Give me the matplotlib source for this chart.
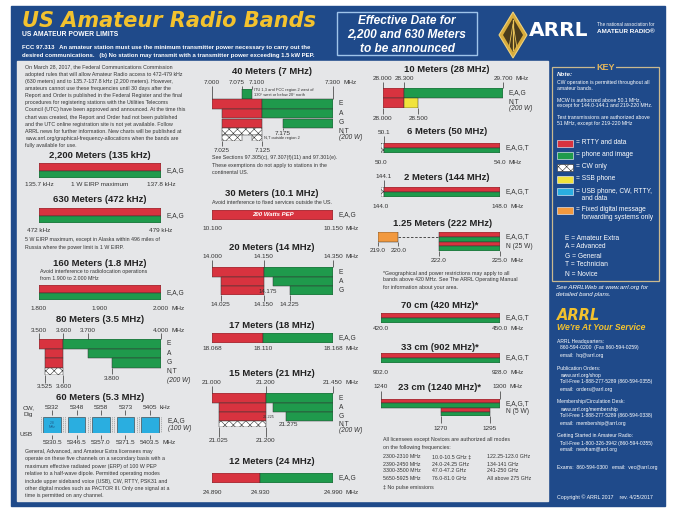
import matplotlib.pyplot as plt
import numpy as np
from matplotlib.patches import Rectangle, Polygon

plt.rcParams['font.family'] = ['Liberation Sans', 'DejaVu Sans']
plt.rcParams['hatch.linewidth'] = 0.4

# ---------------- band data: (licence row, low edge, high edge, mode) ----------------
b2200_rows = ['E,A,G']
b2200_segs = [('E,A,G', 135.7, 137.8, 'split')]
b2200_bot = [(135.7, '135.7 kHz'), (136.75, '1 W EIRP maximum'), (137.8, '137.8 kHz')]

b630_rows = ['E,A,G']
b630_segs = [('E,A,G', 472, 479, 'split')]
b630_bot = [(472, '472 kHz'), (479, '479 kHz')]

b160_rows = ['E,A,G']
b160_segs = [('E,A,G', 1.800, 2.000, 'split')]
b160_bot = [(1.800, '1.800'), (1.900, '1.900'), (2.000, '2.000 MHz')]

b80_rows = ['E', 'A', 'G', 'N,T']
b80_segs = [('E', 3.500, 3.600, 'data'), ('E', 3.600, 4.000, 'phone'),
            ('A', 3.525, 3.600, 'data'), ('A', 3.700, 4.000, 'phone'),
            ('G', 3.525, 3.600, 'data'), ('G', 3.800, 4.000, 'phone'),
            ('N,T', 3.525, 3.600, 'cw')]
b80_top = [(3.500, '3.500'), (3.600, '3.600'), (3.700, '3.700'), (4.000, '4.000 MHz')]
b80_bot = [(3.525, '3.525'), (3.600, '3.600')]

ch60_top = ['5332', '5348', '5358', '5373', '5405 kHz']
ch60_usb = ['5330.5', '5346.5', '5357.0', '5371.5', '5403.5 MHz']

b40_rows = ['ITU', 'E', 'A', 'G', 'N,T', 'N,T out']
b40_segs = [('ITU', 7.075, 7.100, 'phone'),
            ('E', 7.000, 7.125, 'data'), ('E', 7.125, 7.300, 'phone'),
            ('A', 7.025, 7.125, 'data'), ('A', 7.125, 7.300, 'phone'),
            ('G', 7.025, 7.125, 'data'), ('G', 7.175, 7.300, 'phone'),
            ('N,T', 7.025, 7.125, 'cw'),
            ('N,T out', 7.025, 7.075, 'cw'), ('N,T out', 7.100, 7.125, 'cw')]
b40_top = [(7.000, '7.000'), (7.075, '7.075'), (7.100, '7.100'), (7.300, '7.300 MHz')]
b40_bot = [(7.025, '7.025'), (7.125, '7.125')]

b30_rows = ['E,A,G']
b30_segs = [('E,A,G', 10.100, 10.150, 'data')]
b30_bot = [(10.100, '10.100'), (10.150, '10.150 MHz')]

b20_rows = ['E', 'A', 'G']
b20_segs = [('E', 14.000, 14.150, 'data'), ('E', 14.150, 14.350, 'phone'),
            ('A', 14.025, 14.150, 'data'), ('A', 14.175, 14.350, 'phone'),
            ('G', 14.025, 14.150, 'data'), ('G', 14.225, 14.350, 'phone')]
b20_top = [(14.000, '14.000'), (14.150, '14.150'), (14.350, '14.350 MHz')]
b20_bot = [(14.025, '14.025'), (14.150, '14.150'), (14.225, '14.225')]

b17_rows = ['E,A,G']
b17_segs = [('E,A,G', 18.068, 18.110, 'data'), ('E,A,G', 18.110, 18.168, 'phone')]
b17_bot = [(18.068, '18.068'), (18.110, '18.110'), (18.168, '18.168 MHz')]

b15_rows = ['E', 'A', 'G', 'N,T']
b15_segs = [('E', 21.000, 21.200, 'data'), ('E', 21.200, 21.450, 'phone'),
            ('A', 21.025, 21.200, 'data'), ('A', 21.225, 21.450, 'phone'),
            ('G', 21.025, 21.200, 'data'), ('G', 21.275, 21.450, 'phone'),
            ('N,T', 21.025, 21.200, 'cw')]
b15_top = [(21.000, '21.000'), (21.200, '21.200'), (21.450, '21.450 MHz')]
b15_bot = [(21.025, '21.025'), (21.200, '21.200')]

b12_rows = ['E,A,G']
b12_segs = [('E,A,G', 24.890, 24.930, 'data'), ('E,A,G', 24.930, 24.990, 'phone')]
b12_bot = [(24.890, '24.890'), (24.930, '24.930'), (24.990, '24.990 MHz')]

b10_rows = ['E,A,G', 'N,T']
b10_segs = [('E,A,G', 28.000, 28.300, 'data'), ('E,A,G', 28.300, 29.700, 'phone'),
            ('N,T', 28.000, 28.300, 'data'), ('N,T', 28.300, 28.500, 'ssb')]
b10_top = [(28.000, '28.000'), (28.300, '28.300'), (29.700, '29.700 MHz')]
b10_bot = [(28.000, '28.000'), (28.500, '28.500')]

b6_rows = ['E,A,G,T']
b6_segs = [('E,A,G,T', 50.0, 50.1, 'cw'), ('E,A,G,T', 50.1, 54.0, 'split')]
b6_bot = [(50.0, '50.0'), (54.0, '54.0 MHz')]

b2_rows = ['E,A,G,T']
b2_segs = [('E,A,G,T', 144.0, 144.1, 'cw'), ('E,A,G,T', 144.1, 148.0, 'split')]
b2_bot = [(144.0, '144.0'), (148.0, '148.0 MHz')]

b125_rows = ['E,A,G,T', 'N (25 W)']
b125_segs = [('E,A,G,T', 219.0, 220.0, 'digital'), ('E,A,G,T', 220.0, 222.0, 'gap'),
             ('E,A,G,T', 222.0, 225.0, 'split'), ('N (25 W)', 222.0, 225.0, 'split')]
b125_low = [(219.0, '219.0'), (220.0, '220.0')]
b125_bot = [(222.0, '222.0'), (225.0, '225.0 MHz')]

b70_rows = ['E,A,G,T']
b70_segs = [('E,A,G,T', 420.0, 450.0, 'split')]
b70_bot = [(420.0, '420.0'), (450.0, '450.0 MHz')]

b33_rows = ['E,A,G,T']
b33_segs = [('E,A,G,T', 902.0, 928.0, 'split')]
b33_bot = [(902.0, '902.0'), (928.0, '928.0 MHz')]

b23_rows = ['E,A,G,T', 'N (5 W)']
b23_segs = [('E,A,G,T', 1240, 1300, 'split'), ('N (5 W)', 1270, 1295, 'split')]
b23_top = [(1240, '1240'), (1300, '1300 MHz')]
b23_bot = [(1270, '1270'), (1295, '1295')]

microwave = [['2300-2310 MHz', '2390-2450 MHz', '3300-3500 MHz', '5650-5925 MHz'],
             ['10.0-10.5 GHz \u2021', '24.0-24.25 GHz', '47.0-47.2 GHz', '76.0-81.0 GHz'],
             ['122.25-123.0 GHz', '134-141 GHz', '241-250 GHz', 'All above 275 GHz']]

key_modes = ['data', 'phone', 'cw', 'ssb', 'usb', 'digital']
key_labels = ['= RTTY and data', '= phone and image', '= CW only', '= SSB phone',
              '= USB phone, CW, RTTY,\n   and data', '= Fixed digital message\n   forwarding systems only']
classes = ['E = Amateur Extra', 'A = Advanced', 'G = General', 'T = Technician', 'N = Novice']

intro = ['On March 28, 2017, the Federal Communications Commission',
         'adopted rules that will allow Amateur Radio access to 472-479 kHz',
         '(630 meters) and to 135.7-137.8 kHz (2,200 meters). However,',
         'amateurs cannot use these frequencies until 30 days after the',
         'Report and Order is published in the Federal Register and the final',
         'procedures for registering stations with the Utilities Telecoms',
         'Council (UTC) have been approved and announced. At the time this',
         'chart was created, the Report and Order had not been published',
         'and the UTC online registration site is not yet available. Follow',
         'ARRL news for further information. New charts will be published at',
         'www.arrl.org/graphical-frequency-allocations when the bands are',
         'fully available for use.']
fcc = ['FCC 97.313   An amateur station must use the minimum transmitter power necessary to carry out the',
       'desired communications.   (b) No station may transmit with a transmitter power exceeding 1.5 kW PEP.']
ch60_note = ['General, Advanced, and Amateur Extra licensees may',
             'operate on these five channels on a secondary basis with a',
             'maximum effective radiated power (ERP) of 100 W PEP',
             'relative to a half-wave dipole. Permitted operating modes',
             'include upper sideband voice (USB), CW, RTTY, PSK31 and',
             'other digital modes such as PACTOR III. Only one signal at a',
             'time is permitted on any channel.']
key_note = ['CW operation is permitted throughout all', 'amateur bands.', '',
            'MCW is authorized above 50.1 MHz,', 'except for 144.0-144.1 and 219-220 MHz.', '',
            'Test transmissions are authorized above', '51 MHz, except for 219-220 MHz']
contacts = [('ARRL Headquarters:', ['860-594-0200  (Fax 860-594-0259)', 'email:  hq@arrl.org']),
            ('Publication Orders:', ['www.arrl.org/shop', 'Toll-Free 1-888-277-5289 (860-594-0355)',
                                     'email:  orders@arrl.org']),
            ('Membership/Circulation Desk:', ['www.arrl.org/membership', 'Toll-Free 1-888-277-5289 (860-594-0338)',
                                              'email:  membership@arrl.org']),
            ('Getting Started in Amateur Radio:', ['Toll-Free 1-800-326-3942 (860-594-0355)',
                                                   'email:  newham@arrl.org'])]

# ---------------- styles ----------------
W, H = 675, 508
BLUE = '#1f4a8a'
PANEL = '#e5e6e8'
RED = '#d8333f'
GREEN = '#1f9a4c'
YELLOW = '#f1e33c'
CYAN = '#2aaee0'
ORANGE = '#f2993e'
GOLD = '#f3c22e'
INK = '#333333'
MODE_COLOR = {'data': RED, 'phone': GREEN, 'ssb': YELLOW, 'usb': CYAN, 'digital': ORANGE}
TITLE, LAB, SIDE, NOTE = 6.8, 4.6, 4.8, 3.8

fig = plt.figure(figsize=(W / 100, H / 100), dpi=100)
bg = fig.add_axes([0, 0, 1, 1])
bg.set_xlim(0, W)
bg.set_ylim(H, 0)
bg.axis('off')
bg.add_patch(Rectangle((11, 6), 654, 500, color=BLUE))
bg.add_patch(Rectangle((17, 61), 531, 440, color=PANEL))


def txt(x, y, s, size=NOTE, color=INK, **kw):
    kw.setdefault('va', 'center')
    bg.text(x, y, s, fontsize=size, color=color, **kw)


def block(x, y0, step, lines, **kw):
    for i, s in enumerate(lines):
        txt(x, y0 + i * step, s, **kw)


def title(cx, y, s):
    txt(cx, y, s, size=TITLE, weight='bold', ha='center', color='#222222')


def band(x0, x1, ytop, heights, f0, f1, rows, segs, side=True):
    h = sum(heights)
    ax = fig.add_axes([x0 / W, 1 - (ytop + h) / H, (x1 - x0) / W, h / H])
    ax.set_xlim(f0, f1)
    ax.set_ylim(h, 0)
    ax.axis('off')
    ax.ytop = ytop
    tops = np.cumsum([0] + list(heights[:-1]))
    for row, lo, hi, mode in segs:
        i = rows.index(row)
        y, rh = tops[i], heights[i]
        kw = dict(left=lo, align='edge', edgecolor=INK, linewidth=0.35)
        if mode == 'split':
            ax.barh(y, hi - lo, height=rh / 2, color=RED, **kw)
            ax.barh(y + rh / 2, hi - lo, height=rh / 2, color=GREEN, **kw)
        elif mode == 'cw':
            ax.barh(y, hi - lo, height=rh, color='white', hatch='xxxx', **kw)
        elif mode == 'gap':
            ax.hlines(y + rh / 2, lo, hi, colors=INK, linestyles=(0, (3, 2)), linewidth=0.6)
        else:
            ax.barh(y, hi - lo, height=rh, color=MODE_COLOR[mode], **kw)
    if side:
        for i, row in enumerate(rows):
            side_label(ax, ytop + tops[i] + heights[i] / 2, row)
    return ax


def side_label(ax, y, s, **kw):
    ax.annotate(s, (1, y - ax.ytop), xycoords=('axes fraction', 'data'), xytext=(4, 0),
                textcoords='offset points', va='center', ha='left', fontsize=SIDE,
                color=INK, annotation_clip=False, **kw)


def flabels(ax, labels, y, line=None, split=True, size=LAB):
    for f, s in labels:
        num, unit = s, ''
        if split and (s.endswith(' MHz') or s.endswith(' kHz')):
            num, unit = s[:-4], s[-3:]
        ax.text(f, y - ax.ytop, num, ha='center', va='center', fontsize=size, color=INK)
        if unit:
            half = size * sum(0.278 if c in '.,' else 0.556 for c in num) / 2
            ax.annotate(unit, (f, y - ax.ytop), xytext=(half + size * 0.4, 0), textcoords='offset points',
                        ha='left', va='center', fontsize=size, color=INK, annotation_clip=False)
        if line is not None:
            ax.vlines(f, line[0] - ax.ytop, line[1] - ax.ytop, colors=INK, linewidth=0.5, clip_on=False)


def tick(ax, freqs, line):
    ax.vlines(freqs, line[0] - ax.ytop, line[1] - ax.ytop, colors=INK, linewidth=0.5, clip_on=False)


# ---------------- header ----------------
txt(22, 21, 'US Amateur Radio Bands', size=15, color=GOLD, family='DejaVu Sans',
    weight='bold', style='italic')
txt(22, 35, 'US AMATEUR POWER LIMITS', size=4.9, color='white', weight='bold')
block(22, 48, 7, fcc, size=4.3, color='white', weight='bold')

bg.add_patch(Rectangle((337, 12), 140, 43, fill=False, edgecolor='#9fc4ea', linewidth=1))
block(407, 20.5, 14.3, ['Effective Date for', '2,200 and 630 Meters', 'to be announced'],
      size=8.6, color='white', weight='bold', style='italic', ha='center')

bg.add_patch(Polygon([(513, 12), (527, 35), (513, 58), (499, 35)], closed=True,
                     facecolor='#d9ad3c', edgecolor='#f0d27a', linewidth=0.8))
bg.add_patch(Polygon([(513, 18), (523, 35), (513, 52), (503, 35)], closed=True,
                     facecolor='#4a3c1c', edgecolor='none'))
bg.plot([513, 513], [20, 50], color='#e8c35a', lw=0.9)
bg.plot([509, 513, 517], [48, 24, 48], color='#e8c35a', lw=0.6)
txt(529, 30, 'ARRL', size=14.5, color='white', family='DejaVu Sans', weight='bold')
txt(597, 24.5, 'The national association for', size=3.3, color='white')
txt(597, 31.5, 'AMATEUR RADIO\u00ae', size=4.6, color='white', weight='bold')

# ---------------- left column ----------------
block(25, 67, 7.15, intro, size=NOTE)

title(100, 155, '2,200 Meters (135 kHz)')
ax = band(39, 161, 163, [15], 135.7, 137.8, b2200_rows, b2200_segs)
flabels(ax, b2200_bot, 185, split=False)

title(100, 200, '630 Meters (472 kHz)')
ax = band(39, 161, 208, [15], 472, 479, b630_rows, b630_segs)
flabels(ax, b630_bot, 231, split=False)
block(25, 240, 7, ['5 W EIRP maximum, except in Alaska within 496 miles of',
                   'Russia where the power limit is 1 W EIRP.'])

title(100, 263, '160 Meters (1.8 MHz)')
block(40, 271, 7, ['Avoid interference to radiolocation operations', 'from 1.900 to 2.000 MHz'])
ax = band(39, 161, 285, [15], 1.800, 2.000, b160_rows, b160_segs)
flabels(ax, b160_bot, 308)

title(100, 319, '80 Meters (3.5 MHz)')
ax = band(39, 161, 339, [9.5, 9.5, 9.5, 7], 3.500, 4.000, b80_rows, b80_segs)
flabels(ax, b80_top, 330, line=(333, 339))
flabels(ax, [(3.800, '3.800')], 378, line=(368, 374))
flabels(ax, b80_bot, 387, line=(374.5, 383))
side_label(ax, 381, '(200 W)', style='italic')

title(100, 397, '60 Meters (5.3 MHz)')
txt(23, 407.5, 'CW,', size=LAB)
txt(23, 414.5, 'Dig', size=LAB)
txt(20, 435, 'USB', size=LAB)
ch = fig.add_axes([40 / W, 1 - 433 / H, 122 / W, 16 / H])
ch.set_xlim(-0.5, 4.5)
ch.set_ylim(16, 0)
ch.axis('off')
ch.ytop = 417
idx = np.arange(len(ch60_top))
ch.bar(idx, 20, bottom=-2, width=0.92, color='none', edgecolor='#9a9a9a',
       linewidth=0.5, linestyle=(0, (2, 1)))
ch.bar(idx, 16, bottom=0, width=0.72, color=CYAN, edgecolor=INK, linewidth=0.4)
ch.text(0, 8, '2.8\nMHz', ha='center', va='center', fontsize=2.4, color='#1c5a8a')
flabels(ch, list(zip(idx, ch60_top)), 407.5, line=(410, 415))
flabels(ch, list(zip(idx, ch60_usb)), 442, line=(435, 439))
side_label(ch, 421, 'E,A,G')
side_label(ch, 428.5, '(100 W)', style='italic')
block(25, 451.5, 7.4, ch60_note)

# ---------------- middle column ----------------
title(272, 72, '40 Meters (7 MHz)')
ax = band(212, 333, 89, [10, 10, 9.5, 9.5, 6.5, 6.5], 7.000, 7.300, b40_rows, b40_segs, side=False)
flabels(ax, b40_top[:1] + b40_top[3:], 83, line=(86, 99))
flabels(ax, [(7.062, b40_top[1][1]), (7.112, b40_top[2][1])], 83)
tick(ax, [f for f, _ in b40_top[1:3]], (86, 89))
for y, s in [(104, 'E'), (113.5, 'A'), (123, 'G'), (130.5, 'N,T')]:
    side_label(ax, y, s)
side_label(ax, 137.5, '(200 W)', style='italic')
ax.text(7.103, 1.5, 'ITU 1,3 and FCC region 2 west of', fontsize=2.9, color=INK, va='center')
ax.text(7.103, 6.5, '130\u00b0 west or below 20\u00b0 north', fontsize=2.9, color=INK, va='center')
flabels(ax, [(7.175, '7.175')], 133.5, line=(128, 130))
ax.text(7.128, 49, 'N,T outside region 2', fontsize=2.9, color=INK, va='center')
flabels(ax, b40_bot, 150, line=(141, 146))
block(212, 158, 7.3, ['See Sections 97.305(c), 97.307(f)(11) and 97.301(e).',
                      'These exemptions do not apply to stations in the',
                      'continental US.'])

title(272, 193, '30 Meters (10.1 MHz)')
txt(212, 202, 'Avoid interference to fixed services outside the US.')
ax = band(212, 333, 210, [10], 10.100, 10.150, b30_rows, b30_segs)
ax.text(10.125, 5, '200 Watts PEP', ha='center', va='center', fontsize=4.3, color='white',
        weight='bold', style='italic')
flabels(ax, b30_bot, 228)

title(272, 248, '20 Meters (14 MHz)')
ax = band(212, 333, 267, [10, 9, 9], 14.000, 14.350, b20_rows, b20_segs)
flabels(ax, b20_top, 257, line=(260, 267))
flabels(ax, [(14.1625, '14.175')], 291.5, size=4.3)
flabels(ax, b20_bot, 305, line=(295, 301))

title(272, 325, '17 Meters (18 MHz)')
ax = band(212, 333, 333, [9.5], 18.068, 18.168, b17_rows, b17_segs)
flabels(ax, b17_bot, 349)

title(272, 373, '15 Meters (21 MHz)')
ax = band(212, 333, 393, [10, 9, 9, 6], 21.000, 21.450, b15_rows, b15_segs, side=False)
for y, s in [(398, 'E'), (407.5, 'A'), (416.5, 'G'), (424, 'N,T')]:
    side_label(ax, y, s)
side_label(ax, 431, '(200 W)', style='italic')
flabels(ax, b15_top, 383, line=(386, 393))
flabels(ax, [(21.2125, '21.225')], 416.5, size=2.8)
flabels(ax, [(21.283, '21.275')], 424.5, line=(421, 421.5))
flabels(ax, b15_bot, 441, line=(427, 437))

title(272, 462, '12 Meters (24 MHz)')
ax = band(212, 333, 473, [10], 24.890, 24.990, b12_rows, b12_segs)
flabels(ax, b12_bot, 493)

# ---------------- right column (bands) ----------------
title(447, 70, '10 Meters (28 MHz)')
ax = band(383, 503, 88, [9.5, 10], 28.000, 29.700, b10_rows, b10_segs, side=False)
flabels(ax, b10_top, 79, line=(82, 88))
flabels(ax, b10_bot, 118, line=(107.5, 114))
side_label(ax, 93, 'E,A,G')
side_label(ax, 102, 'N,T')
side_label(ax, 108.5, '(200 W)', style='italic')

title(447, 131, '6 Meters (50 MHz)')
ax = band(381, 500, 143, [9.5], 50.0, 54.0, b6_rows, b6_segs)
flabels(ax, [(50.1, '50.1')], 133, line=(136, 143))
flabels(ax, b6_bot, 162)

title(447, 178, '2 Meters (144 MHz)')
ax = band(381, 500, 187, [10], 144.0, 148.0, b2_rows, b2_segs)
flabels(ax, [(144.1, '144.1')], 177, line=(180, 187))
flabels(ax, b2_bot, 207)

title(443, 224, '1.25 Meters (222 MHz)')
ax = band(378, 500, 232, [9.5, 9], 219.0, 225.0, b125_rows, b125_segs)
flabels(ax, b125_low, 250, line=(241.5, 246))
flabels(ax, b125_bot, 260, line=(250.5, 256))

block(383, 273, 7, ['*Geographical and power restrictions may apply to all',
                    'bands above 420 MHz. See The ARRL Operating Manual',
                    'for information about your area.'])

title(440, 305, '70 cm (420 MHz)*')
ax = band(381, 500, 313, [9.5], 420.0, 450.0, b70_rows, b70_segs)
flabels(ax, b70_bot, 329)

title(440, 347, '33 cm (902 MHz)*')
ax = band(381, 500, 353, [10], 902.0, 928.0, b33_rows, b33_segs)
flabels(ax, b33_bot, 372)

title(440, 387, '23 cm (1240 MHz)*')
ax = band(381, 500, 399, [8.5, 8], 1240, 1300, b23_rows, b23_segs)
flabels(ax, b23_top, 387, line=(391, 399))
flabels(ax, b23_bot, 428, line=(415.5, 423))

block(383, 440, 7, ['All licensees except Novices are authorized all modes',
                    'on the following frequencies:'])
for cx, col in zip([383, 432, 487], microwave):
    block(cx, 457, 7, col)
txt(383, 487, '\u2021 No pulse emissions')

# ---------------- key column ----------------
KL, KR, KT, KB = 552, 659, 67, 281
bg.add_patch(Rectangle((KL, KT), KR - KL, KB - KT, fill=False, edgecolor='#c9b98f', linewidth=0.9))
txt(605.5, KT, 'KEY', size=6.5, color='#e6b85c', weight='bold', ha='center',
    bbox=dict(facecolor=BLUE, edgecolor='none', pad=0.6))
txt(557, 75, 'Note:', size=4.5, color='white', weight='bold', style='italic')
block(557, 82.5, 5.8, key_note, size=3.7, color='white')

key_y = [143, 155, 167, 179, 191.5, 210]
for y, mode, lab in zip(key_y, key_modes, key_labels):
    if mode == 'cw':
        bg.add_patch(Rectangle((557, y - 3.5), 16, 7, facecolor='white', edgecolor=INK,
                               hatch='xxxx', linewidth=0.4))
    else:
        bg.add_patch(Rectangle((557, y - 3.5), 16, 7, facecolor=MODE_COLOR[mode],
                               edgecolor='white', linewidth=0.4))
    va = 'top' if '\n' in lab else 'center'
    txt(576, y - (3.6 if va == 'top' else 0), lab, size=4.8, color='white', va=va, linespacing=1.05)
block(565, 238, 9, classes, size=4.8, color='white')

block(556, 287, 7.5, ['See ARRLWeb at www.arrl.org for', 'detailed band plans.'],
      size=4.4, color='white', style='italic')
txt(557, 315, 'ARRL', size=10.5, color=GOLD, weight='bold', style='italic', family='DejaVu Sans')
txt(557, 327, "We're At Your Service", size=6.2, color=GOLD, weight='bold', style='italic')
y = 341
for head, rows in contacts:
    txt(557, y, head, size=3.6, color='white')
    block(560, y + 7, 7, rows, size=3.6, color='white')
    y += 7 * (len(rows) + 1) + 6
txt(557, 467, 'Exams:  860-594-0300   email:  vec@arrl.org', size=3.6, color='white')
txt(557, 497, 'Copyright \u00a9 ARRL 2017    rev. 4/25/2017', size=3.8, color='white')

fig.savefig('out.png', dpi=100)
